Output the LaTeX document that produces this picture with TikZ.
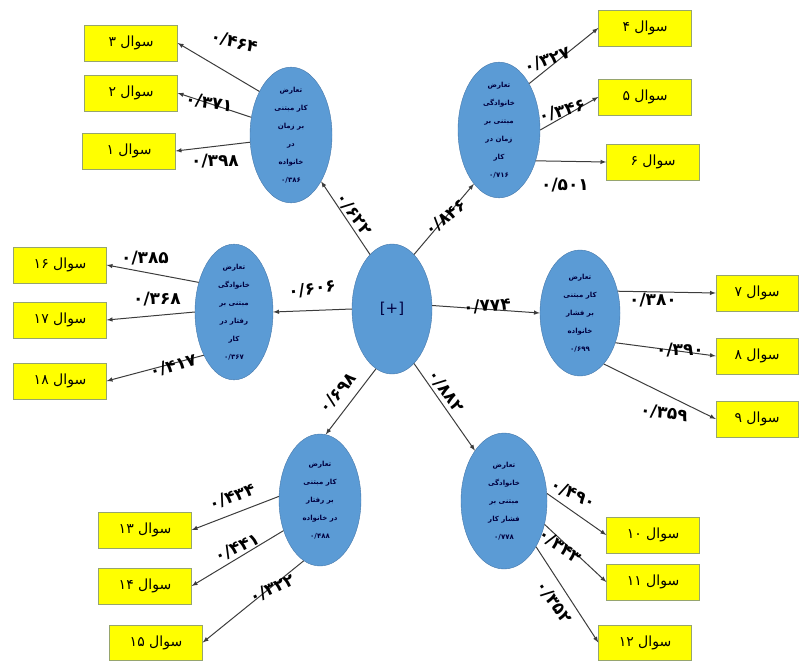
\documentclass[tikz,border=0pt]{standalone}
\usepackage{fontspec}
\usepackage{tikz}
\usetikzlibrary{shapes.geometric}
\TeXXeTstate=1
\newfontfamily\arabicfont[Script=Arabic]{DejaVu Sans}
\newcommand{\fa}[1]{\beginR#1\endR}
\definecolor{ovalblue}{RGB}{91,155,213}
\definecolor{ovaledge}{RGB}{70,120,170}
\definecolor{boxyellow}{RGB}{255,255,0}
\definecolor{boxedge}{RGB}{150,165,110}
\definecolor{linegray}{RGB}{60,60,60}

\begin{document}
\begin{tikzpicture}[x=1pt, y=-1pt, >=latex]
        \tikzstyle{fc} = [ellipse, draw=ovaledge, fill=ovalblue, inner sep=0pt,
                          minimum width=82pt, minimum height=132pt, align=center,
                          font=\arabicfont\bfseries\fontsize{7}{18}\selectfont, text=black!75!blue]
        \tikzstyle{qs} = [rectangle, draw=boxedge, fill=boxyellow, inner sep=0pt,
                          minimum width=93pt, minimum height=36pt,
                          font=\arabicfont\fontsize{14}{14}\selectfont]
        \tikzstyle{wt} = [inner sep=0pt, font=\arabicfont\bfseries\fontsize{17}{17}\selectfont]
        \tikzstyle{ln} = [->, draw=linegray, line width=1pt]

        \useasboundingbox (0,0) rectangle (799,661);

        % center and the six factors
        \node(main) [fc, minimum width=80pt, minimum height=130pt,
                     font=\arabicfont\fontsize{15}{15}\selectfont] at (392,309) {[+]};
        \node(f1) [fc] at (291,135) {\fa{تعارض}\\\fa{کار مبتنی}\\\fa{بر زمان}\\\fa{در}\\\fa{خانواده}\\۰/۳۸۶};
        \node(f2) [fc] at (499,130) {\fa{تعارض}\\\fa{خانوادگی}\\\fa{مبتنی بر}\\\fa{زمان در}\\\fa{کار}\\۰/۷۱۶};
        \node(f3) [fc, minimum width=78pt] at (234,312) {\fa{تعارض}\\\fa{خانوادگی}\\\fa{مبتنی بر}\\\fa{رفتار در}\\\fa{کار}\\۰/۳۶۷};
        \node(f4) [fc, minimum width=80pt, minimum height=126pt] at (580,313) {\fa{تعارض}\\\fa{کار مبتنی}\\\fa{بر فشار}\\\fa{خانواده}\\۰/۶۹۹};
        \node(f5) [fc] at (320,500) {\fa{تعارض}\\\fa{کار مبتنی}\\\fa{بر رفتار}\\\fa{در خانواده}\\۰/۴۸۸};
        \node(f6) [fc, minimum width=86pt, minimum height=136pt] at (504,501) {\fa{تعارض}\\\fa{خانوادگی}\\\fa{مبتنی بر}\\\fa{فشار کار}\\۰/۷۷۸};

        % questions
        \node(q3)  [qs] at (131,43)  {\fa{سوال ۳}};
        \node(q2)  [qs] at (131,93)  {\fa{سوال ۲}};
        \node(q1)  [qs] at (129,151) {\fa{سوال ۱}};
        \node(q4)  [qs] at (645,28)  {\fa{سوال ۴}};
        \node(q5)  [qs] at (645,97)  {\fa{سوال ۵}};
        \node(q6)  [qs] at (653,162) {\fa{سوال ۶}};
        \node(q16) [qs] at (60,265)  {\fa{سوال ۱۶}};
        \node(q17) [qs] at (60,320)  {\fa{سوال ۱۷}};
        \node(q18) [qs] at (60,381)  {\fa{سوال ۱۸}};
        \node(q7)  [qs, minimum width=82pt] at (757,293) {\fa{سوال ۷}};
        \node(q8)  [qs, minimum width=82pt] at (757,356) {\fa{سوال ۸}};
        \node(q9)  [qs, minimum width=82pt] at (757,419) {\fa{سوال ۹}};
        \node(q13) [qs] at (145,530) {\fa{سوال ۱۳}};
        \node(q14) [qs] at (145,586) {\fa{سوال ۱۴}};
        \node(q15) [qs, minimum height=35pt] at (156,642.5) {\fa{سوال ۱۵}};
        \node(q10) [qs] at (653,535) {\fa{سوال ۱۰}};
        \node(q11) [qs] at (653,582) {\fa{سوال ۱۱}};
        \node(q12) [qs, minimum height=35pt] at (645,642.5) {\fa{سوال ۱۲}};

        % paths
        \draw[ln] (main.112) -- (f1.303);
        \draw[ln] (main.68)  -- (f2.245);
        \draw[ln] (main.180) -- (f3.0);
        \draw[ln] (main.5)   -- (f4.180);
        \draw[ln] (main.255) -- (f5.85);
        \draw[ln] (main.292) -- (f6.120);

        \draw[ln] (f1.126) -- (q3.east);
        \draw[ln] (f1.156) -- (q2.east);
        \draw[ln] (f1.190) -- (q1.east);
        \draw[ln] (f2.57)  -- (q4.west);
        \draw[ln] (f2.0)   -- (q5.west);
        \draw[ln] (f2.320) -- (q6.west);
        \draw[ln] (f3.140) -- (q16.east);
        \draw[ln] (f3.180) -- (q17.east);
        \draw[ln] (f3.235) -- (q18.east);
        \draw[ln] (f4.30)  -- (q7.west);
        \draw[ln] (f4.320) -- (q8.west);
        \draw[ln] (f4.295) -- (q9.west);
        \draw[ln] (f5.175) -- (q13.east);
        \draw[ln] (f5.220) -- (q14.east);
        \draw[ln] (f5.255) -- (q15.east);
        \draw[ln] (f6.10)  -- (q10.west);
        \draw[ln] (f6.330) -- (q11.west);
        \draw[ln] (f6.305) -- (q12.west);

        % loadings
        \node(w622) [wt, rotate=-55] at (354,214) {۰/۶۲۲};
        \node(w846) [wt, rotate=38]  at (446,218) {۰/۸۴۶};
        \node(w606) [wt, rotate=8]   at (312,289) {۰/۶۰۶};
        \node(w774) [wt, rotate=4]   at (487,306) {۰/۷۷۴};
        \node(w698) [wt, rotate=50]  at (338,393) {۰/۶۹۸};
        \node(w882) [wt, rotate=-55] at (446,391) {۰/۸۸۲};

        \node(w464) [wt, rotate=-15] at (234,42)  {۰/۴۶۴};
        \node(w371) [wt, rotate=-10] at (209,103) {۰/۳۷۱};
        \node(w398) [wt]             at (215,161) {۰/۳۹۸};
        \node(w327) [wt, rotate=20]  at (547,60)  {۰/۳۲۷};
        \node(w346) [wt, rotate=15]  at (562,111) {۰/۳۴۶};
        \node(w501) [wt]             at (565,185) {۰/۵۰۱};
        \node(w385) [wt]             at (145,258) {۰/۳۸۵};
        \node(w368) [wt]             at (157,299) {۰/۳۶۸};
        \node(w417) [wt, rotate=15]  at (173,366) {۰/۴۱۷};
        \node(w380) [wt]             at (653,300) {۰/۳۸۰};
        \node(w390) [wt]             at (680,350) {۰/۳۹۰};
        \node(w359) [wt, rotate=-8]  at (664,413) {۰/۳۵۹};
        \node(w434) [wt, rotate=20]  at (232,497) {۰/۴۳۴};
        \node(w441) [wt, rotate=25]  at (237,548) {۰/۴۴۱};
        \node(w322) [wt, rotate=25]  at (272,589) {۰/۳۲۲};
        \node(w490) [wt, rotate=-25] at (573,494) {۰/۴۹۰};
        \node(w343) [wt, rotate=-35] at (560,546) {۰/۳۴۳};
        \node(w352) [wt, rotate=-55] at (554,602) {۰/۳۵۲};
\end{tikzpicture}
\end{document}
